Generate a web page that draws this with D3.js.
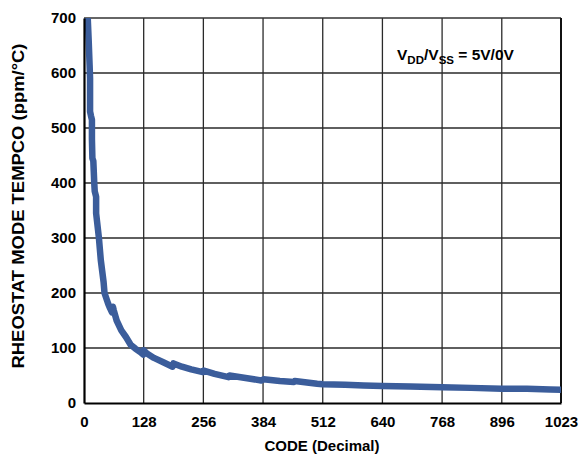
<!DOCTYPE html>
<html><head><meta charset="utf-8">
<script src="https://cdn.jsdelivr.net/npm/d3@7"></script>
<style>
html,body{margin:0;padding:0;background:#fff;}
svg{display:block;font-family:"Liberation Sans",Arial,sans-serif;font-weight:bold;}
</style></head>
<body>
<svg id="c" width="584" height="456"></svg>
<script>
const xTicks = [0,128,256,384,512,640,768,896,1023];
const yTicks = [0,100,200,300,400,500,600,700];
const codes = [7,8,10,12,13,13,15,17,17,18,20,21,22,23,26,26,28,30,32,34,36,39,42,44,48,52,56,60,62,64,70,80,90,100,110,120,127,128,135,150,170,190,192,210,230,255,257,280,310,312,350,380,385,420,450,452,500,512,560,600,640,700,768,830,896,950,1000,1023];
const tempco = [720,700,660,615,590,530,522,515,480,445,440,420,400,385,375,345,330,315,300,280,260,240,220,200,190,180,172,165,175,168,150,132,120,106,99,93,88,96,90,82,74,66,72,66,61,56,59,53,47,50,45,41,43,40,38,40,35,34,33,32,31,30,28.5,27.5,26,26,24.5,24];

const svg = d3.select("#c");
const L=84, R=561, T=18, B=403;
const x = d3.scaleLinear().domain([0,1023]).range([L,R]);
const y = d3.scaleLinear().domain([0,700]).range([B,T]);

// grid
svg.append("g").selectAll("line").data(xTicks.slice(1,-1)).join("line")
  .attr("x1",d=>x(d)).attr("x2",d=>x(d)).attr("y1",T).attr("y2",B)
  .attr("stroke","#2a2a2a").attr("stroke-width",1.3);
svg.append("g").selectAll("line").data(yTicks.slice(1,-1)).join("line")
  .attr("x1",L).attr("x2",R).attr("y1",d=>y(d)).attr("y2",d=>y(d))
  .attr("stroke","#2a2a2a").attr("stroke-width",1.3);

// frame
svg.append("line").attr("x1",L).attr("x2",R).attr("y1",T).attr("y2",T).attr("stroke","#333").attr("stroke-width",1.5);
svg.append("line").attr("x1",R).attr("x2",R).attr("y1",T).attr("y2",B).attr("stroke","#111").attr("stroke-width",2);

// data line
svg.append("clipPath").attr("id","clip").append("rect").attr("x",L).attr("y",T).attr("width",R-L).attr("height",B-T);
const pts = codes.map((c,i)=>[c,tempco[i]]);
svg.append("path").datum(pts)
  .attr("clip-path","url(#clip)")
  .attr("fill","none").attr("stroke","#3b5d9b").attr("stroke-width",6.5)
  .attr("stroke-linejoin","round").attr("stroke-linecap","butt")
  .attr("d", d3.line().x(d=>x(d[0])).y(d=>y(d[1])));

// axes
const xa = svg.append("g").attr("transform",`translate(0,${B})`)
  .call(d3.axisBottom(x).tickValues(xTicks).tickSize(0).tickPadding(13).tickFormat(d3.format("d")));
const ya = svg.append("g").attr("transform",`translate(${L},0)`)
  .call(d3.axisLeft(y).tickValues(yTicks).tickSize(0).tickPadding(8).tickFormat(d3.format("d")));
[xa,ya].forEach(a=>{
  a.select(".domain").attr("stroke","#000").attr("stroke-width",2.2);
  a.selectAll("text").attr("fill","#000").style("font-size","15px").style("font-family","Liberation Sans, Arial, sans-serif").style("font-weight","bold");
});

// titles
svg.append("text").attr("x",322).attr("y",451).attr("text-anchor","middle")
  .style("font-size","15px").text("CODE (Decimal)");
svg.append("text").attr("transform","translate(24,206) rotate(-90)").attr("text-anchor","middle")
  .style("font-size","17px").attr("textLength",325).attr("lengthAdjust","spacingAndGlyphs")
  .text("RHEOSTAT MODE TEMPCO (ppm/°C)");

// annotation
const ann = svg.append("text").attr("x",397).attr("y",60).style("font-size","15.5px");
ann.append("tspan").text("V");
ann.append("tspan").attr("dy",4).style("font-size","11.5px").text("DD");
ann.append("tspan").attr("dy",-4).text("/V");
ann.append("tspan").attr("dy",4).style("font-size","11.5px").text("SS");
ann.append("tspan").attr("dy",-4).text(" = 5V/0V");
</script>
</body></html>
